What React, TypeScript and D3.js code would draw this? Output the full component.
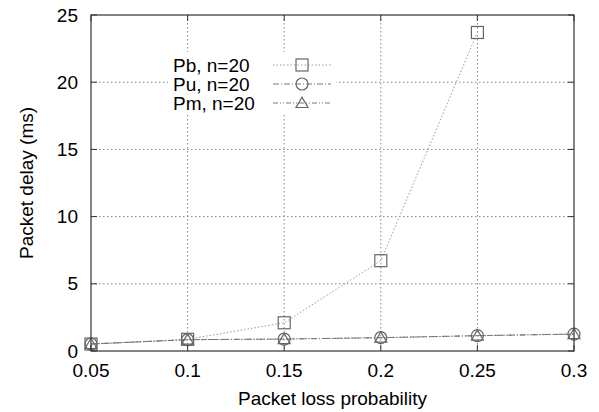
import React from "react";
import * as d3 from "d3";

const xValues = [0.05, 0.1, 0.15, 0.2, 0.25, 0.3];
const pbValues = [0.52, 0.87, 2.1, 6.72, 23.7];
const puValues = [0.52, 0.84, 0.89, 0.99, 1.14, 1.26];
const pmValues = [0.52, 0.84, 0.89, 0.99, 1.14, 1.26];
const xTicks = [0.05, 0.1, 0.15, 0.2, 0.25, 0.3];
const yTicks = [0, 5, 10, 15, 20, 25];
const seriesNames = ["Pb, n=20", "Pu, n=20", "Pm, n=20"];

const W = 599, H = 412;
const L = 91, R = 574, T = 15, B = 351;
const FONT = "'Liberation Sans', Arial, Helvetica, sans-serif";

export default function App() {
  const x = d3.scaleLinear().domain([0.05, 0.3]).range([L, R]);
  const y = d3.scaleLinear().domain([0, 25]).range([B, T]);
  const line = d3.line<[number, number]>().x(d => x(d[0])).y(d => y(d[1]));

  const series = [
    { name: seriesNames[0], vals: pbValues, dash: "1.5,2", color: "#9a9a9a", marker: "square" },
    { name: seriesNames[1], vals: puValues, dash: "6,2,1,2", color: "#777", marker: "circle" },
    { name: seriesNames[2], vals: pmValues, dash: "5,2,1,2,1,2", color: "#777", marker: "triangle" },
  ];

  const marker = (kind: string, cx: number, cy: number, key: string) => {
    const s = 6;
    const stroke = "#666";
    if (kind === "square")
      return <rect key={key} x={cx - s} y={cy - s} width={2 * s} height={2 * s} fill="none" stroke={stroke} strokeWidth={1.2} />;
    if (kind === "circle")
      return <circle key={key} cx={cx} cy={cy} r={s} fill="none" stroke={stroke} strokeWidth={1.2} />;
    const h = 6;
    return <path key={key} d={`M${cx - h},${cy + h * 0.75}L${cx + h},${cy + h * 0.75}L${cx},${cy - h * 0.95}Z`} fill="none" stroke={stroke} strokeWidth={1.2} />;
  };

  const legendRows = [65, 84, 103];

  return (
    <svg width={W} height={H} style={{ position: "fixed", left: 0, top: 0, background: "#fff" }} fontFamily={FONT}>
      <rect x={0} y={0} width={W} height={H} fill="#fff" />
      {xTicks.slice(1, -1).map(t => (
        <line key={"gx" + t} x1={x(t)} x2={x(t)} y1={T} y2={B} stroke="#888" strokeDasharray="1.5,2.5" strokeWidth={1} />
      ))}
      {yTicks.slice(1, -1).map(t => (
        <line key={"gy" + t} x1={L} x2={R} y1={y(t)} y2={y(t)} stroke="#888" strokeDasharray="1.5,2.5" strokeWidth={1} />
      ))}
      <rect x={168} y={52} width={168} height={62} fill="#fff" />
      {series.map((s, i) => (
        <path key={"l" + i} d={line(s.vals.map((v, j) => [xValues[j], v] as [number, number])) || ""}
          fill="none" stroke={s.color} strokeWidth={1} strokeDasharray={s.dash} />
      ))}
      {series.map((s, i) => s.vals.map((v, j) => marker(s.marker, x(xValues[j]), y(v), `m${i}-${j}`)))}
      <rect x={L} y={T} width={R - L} height={B - T} fill="none" stroke="#333" strokeWidth={1.2} />
      {xTicks.map(t => (
        <g key={"tx" + t}>
          <line x1={x(t)} x2={x(t)} y1={B} y2={B - 6} stroke="#333" />
          <line x1={x(t)} x2={x(t)} y1={T} y2={T + 6} stroke="#333" />
          <text x={x(t)} y={377} fontSize={19} textAnchor="middle" fill="#000">{String(t)}</text>
        </g>
      ))}
      {yTicks.map(t => (
        <g key={"ty" + t}>
          <line x1={L} x2={L + 6} y1={y(t)} y2={y(t)} stroke="#333" />
          <line x1={R} x2={R - 6} y1={y(t)} y2={y(t)} stroke="#333" />
          <text x={78} y={y(t)} dy="0.35em" fontSize={19} textAnchor="end" fill="#000">{t}</text>
        </g>
      ))}
      <text x={(L + R) / 2} y={405} fontSize={19} textAnchor="middle" fill="#000">Packet loss probability</text>
      <text transform={`translate(33,${(T + B) / 2}) rotate(-90)`} fontSize={19} textAnchor="middle" fill="#000">Packet delay (ms)</text>
      {series.map((s, i) => (
        <g key={"lg" + i}>
          <text x={173} y={legendRows[i]} dy="0.35em" fontSize={19} fill="#000">{s.name}</text>
          <line x1={273} x2={331} y1={legendRows[i]} y2={legendRows[i]} stroke={s.color} strokeDasharray={s.dash} />
          {marker(s.marker, 302, legendRows[i], "lm" + i)}
        </g>
      ))}
    </svg>
  );
}
